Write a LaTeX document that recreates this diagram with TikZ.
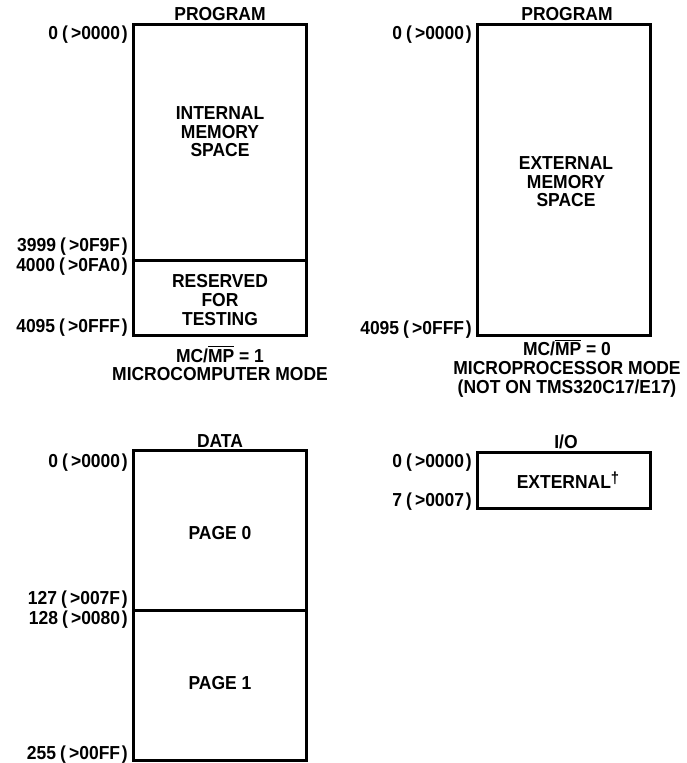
\documentclass[tikz,border=0pt]{standalone}
\usepackage{fontspec}
\setmainfont{Liberation Sans}[FakeStretch=0.93]
\usetikzlibrary{positioning}
\newcommand{\addr}[2]{#1\kern2pt(\kern1.6pt>#2\kern0.8pt)}

\begin{document}
\begin{tikzpicture}[x=0.5pt,y=-0.5pt,
        font=\fontsize{9.4}{9.3}\selectfont\bfseries,
        membox/.style={line width=1.5pt},
        addr/.style={anchor=east, inner sep=0pt},
        txt/.style={align=center, inner sep=0pt}]
        \useasboundingbox (0,0) rectangle (686,763);

        % program memory, microcomputer mode
        \draw[membox] (133,25) rectangle (306,336);
        \draw[membox] (133,261) -- (306,261);
        \node[txt] (prgA) at (220,14) {PROGRAM};
        \node[addr] (a0) at (128,35) {\addr{0}{0000}};
        \node[addr] (a3999) at (128,247) {\addr{3999}{0F9F}};
        \node[addr] (a4000) at (128,267) {\addr{4000}{0FA0}};
        \node[addr] (a4095) at (128,328) {\addr{4095}{0FFF}};
        \node[txt] (intmem) at (220,132) {INTERNAL\\MEMORY\\SPACE};
        \node[txt] (resv) at (220,300) {RESERVED\\FOR\\TESTING};
        \node[txt] (mcmode) at (220,363) {MC/$\overline{\hbox{MP}}$ = 1\\MICROCOMPUTER MODE};

        % program memory, microprocessor mode
        \draw[membox] (477,25) rectangle (650,336);
        \node[txt] (prgB) at (567,14) {PROGRAM};
        \node[addr] (b0) at (472,35) {\addr{0}{0000}};
        \node[addr] (b4095) at (472,330) {\addr{4095}{0FFF}};
        \node[txt] (extmem) at (566,182) {EXTERNAL\\MEMORY\\SPACE};
        \node[txt] (mpmode) at (567,368) {MC/$\overline{\hbox{MP}}$ = 0\\MICROPROCESSOR MODE\\(NOT ON TMS320C17/E17)};

        % data memory
        \draw[membox] (133,450) rectangle (306,760);
        \draw[membox] (133,610) -- (306,610);
        \node[txt] (data) at (220,441) {DATA};
        \node[addr] (d0) at (128,463) {\addr{0}{0000}};
        \node[addr] (d127) at (128,600) {\addr{127}{007F}};
        \node[addr] (d128) at (128,620) {\addr{128}{0080}};
        \node[addr] (d255) at (128,755) {\addr{255}{00FF}};
        \node[txt] (page0) at (220,533) {PAGE 0};
        \node[txt] (page1) at (220,683) {PAGE 1};

        % i/o space
        \draw[membox] (477,452) rectangle (650,508);
        \node[txt] (io) at (566,442) {I/O};
        \node[addr] (i0) at (472,463) {\addr{0}{0000}};
        \node[addr] (i7) at (472,502) {\addr{7}{0007}};
        \node[txt] (ioext) at (568,480) {EXTERNAL\raisebox{2.5pt}{\fontsize{8}{8}\selectfont\textdagger}};
        \end{tikzpicture}
\end{document}
